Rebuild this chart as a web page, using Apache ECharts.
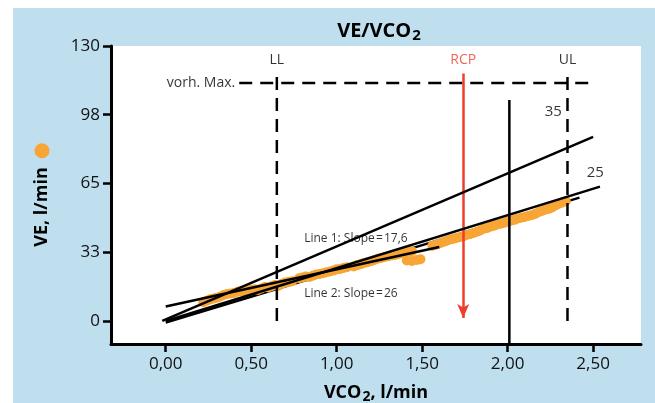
<!DOCTYPE html>
<html><head><meta charset="utf-8">
<script src="https://cdn.jsdelivr.net/npm/echarts@6/dist/echarts.min.js"></script>
<style>
html,body{margin:0;padding:0;background:#fff;}
#bg{position:absolute;left:13px;top:8px;width:642px;height:395px;background:#bfdfee;}
#main{position:absolute;left:0;top:0;width:655px;height:403px;}
</style></head><body>
<div id="bg"></div><div id="main"></div>
<script>
// ---- data ----
const xTicks = [0, 0.5, 1, 1.5, 2, 2.5];
const yTicks = [0, 32.5, 65, 97.5, 130];
const gasPoints = [
 [0.22,8.8],[0.24,9.6],[0.26,10.2],[0.28,10.6],[0.30,11.0],[0.32,11.6],[0.34,12.3],[0.36,12.8],[0.38,13.0],[0.40,13.2],
 [0.42,13.8],[0.44,14.0],[0.46,13.6],[0.48,14.2],[0.50,14.8],[0.52,15.0],[0.54,14.6],[0.56,15.4],[0.58,16.0],[0.60,15.8],
 [0.62,16.4],[0.64,17.0],[0.66,16.6],[0.68,17.6],[0.70,18.2],[0.72,18.4],[0.74,18.8],
 [0.78,20.2],[0.80,20.6],[0.82,21.0],[0.84,20.8],[0.86,21.4],[0.88,22.0],[0.90,22.2],[0.92,22.6],[0.94,23.0],
 [0.96,23.4],[0.98,23.8],[1.00,24.4],[1.02,24.6],[1.04,25.0],[1.06,25.4],
 [1.10,25.8],[1.12,26.4],[1.14,26.8],[1.16,27.4],[1.18,27.8],[1.20,28.2],[1.22,28.8],[1.24,29.4],[1.26,29.8],
 [1.28,30.2],[1.30,30.6],[1.32,31.0],[1.34,31.2],[1.36,31.6],[1.38,32.0],[1.40,32.4],[1.42,32.8],[1.44,33.0],
 [1.41,28.6],[1.44,28.4],[1.47,28.8],[1.49,29.2],
 [1.56,35.6],[1.58,36.0],[1.60,36.6],[1.62,37.2],[1.64,37.8],[1.66,38.4],[1.68,38.8],[1.70,39.2],[1.72,39.6],
 [1.74,40.0],[1.76,40.6],[1.78,41.0],[1.80,41.6],[1.82,42.2],[1.84,42.8],[1.86,43.6],[1.88,44.0],[1.90,44.6],
 [1.92,45.0],[1.94,45.6],[1.96,46.0],[1.98,46.4],[2.00,47.0],[2.02,47.4],[2.04,47.8],[2.06,48.4],[2.08,48.8],
 [2.10,49.2],[2.12,49.6],[2.14,50.0],[2.16,50.6],[2.18,51.4],[2.20,52.0],[2.22,52.6],[2.24,53.0],[2.26,53.6],
 [2.28,54.6],[2.30,55.4],[2.32,56.0],[2.34,56.6]
];
const iso35 = [[-0.02, 0], [2.5, 87]];
const iso25 = [[0, 0], [2.54, 63.5]];
const line1 = [[0, 6.8], [1.6, 35]];
const line2 = [[0, -0.8], [2.42, 58.3]];
const maxLine = [[0.43, 112.5], [2.5, 112.5]];
const llLine = [[0.65, 0], [0.65, 116]];
const ulLine = [[2.35, 0], [2.35, 116]];
const solidLine = [[2.01, -11], [2.01, 104.5]];
const rcpLine = [[1.74, 117], [1.74, 1.4]];
const markerNames = ['LL', 'RCP', 'UL'];
const markerX = [0.65, 1.74, 2.35];
const markerY = 123.4;
const textLabels = [
  {name: '35', value: [2.267, 98.8], align: 'center', size: 15},
  {name: '25', value: [2.513, 70], align: 'center', size: 15},
  {name: 'Line 1: Slope\u200a=\u200a17,6', value: [0.81, 38.8], align: 'left', size: 12},
  {name: 'Line 2: Slope\u200a=\u200a26', value: [0.81, 12.8], align: 'left', size: 12}
];
const maxLabel = 'vorh. Max.';

const FONT = 'Open Sans';
const ORANGE = '#f7a535';
const RED = '#ee3d2c';
const LW = 2.5;
const chart = echarts.init(document.getElementById('main'), null, {renderer: 'canvas'});

function lineSeries(data, dashed, z) {
  return {type: 'line', data: data, symbol: 'none', silent: true, z: z || 5,
    lineStyle: {color: '#000', width: LW, type: dashed ? [13, 8] : 'solid'}, animation: false};
}
function textSeries(items) {
  return {type: 'scatter', z: 8, silent: true, symbolSize: 2,
    itemStyle: {color: 'rgba(0,0,0,0)'}, data: items,
    label: {show: true, position: 'inside', formatter: p => p.name, fontFamily: FONT, color: '#000'}};
}

const option = {
  animation: false,
  backgroundColor: 'transparent',
  textStyle: {fontFamily: FONT},
  title: {
    text: '{a|VE/VCO}{s|2}', left: 374, top: 16, textAlign: 'center',
    textStyle: {rich: {
      a: {fontFamily: FONT, fontSize: 20, fontWeight: 'bold', color: '#000', lineHeight: 22, verticalAlign: 'top'},
      s: {fontFamily: FONT, fontSize: 15, fontWeight: 'bold', color: '#000', lineHeight: 15, padding: [13, 0, 0, 1], verticalAlign: 'bottom'}
    }}
  },
  grid: {left: 111, top: 46, right: 14, bottom: 59, show: true, backgroundColor: '#fff', borderWidth: 0,
    containLabel: false, outerBoundsMode: 'none'},
  xAxis: {
    type: 'value', min: -0.32, max: 2.78,
    axisLine: {show: true, onZero: false, lineStyle: {color: '#000', width: 3}},
    axisTick: {show: true, customValues: xTicks, length: 8, lineStyle: {color: '#000', width: 2.5}},
    axisLabel: {customValues: xTicks, margin: 12, fontFamily: FONT, fontSize: 17, color: '#111',
      formatter: v => v.toFixed(2).replace('.', ',')},
    splitLine: {show: false},
    name: '{a|VCO}{s|2}{a|, l/min}', nameLocation: 'middle', nameGap: 33,
    nameTextStyle: {rich: {
      a: {fontFamily: FONT, fontSize: 18, fontWeight: 'bold', color: '#000', lineHeight: 20, verticalAlign: 'top'},
      s: {fontFamily: FONT, fontSize: 14, fontWeight: 'bold', color: '#000', lineHeight: 14, padding: [12, 0, 0, 1], verticalAlign: 'bottom'}
    }}
  },
  yAxis: {
    type: 'value', min: -10.9, max: 130,
    axisLine: {show: true, onZero: false, lineStyle: {color: '#000', width: 3}},
    axisTick: {show: true, customValues: yTicks, length: 8, lineStyle: {color: '#000', width: 2.5}},
    axisLabel: {customValues: yTicks, margin: 11, fontFamily: FONT, fontSize: 17, color: '#111',
      formatter: v => String(Math.round(v))},
    splitLine: {show: false},
    name: '{t|VE, l/min}{g|}{d|}', nameLocation: 'middle', nameGap: 60, nameRotate: 90,
    nameTextStyle: {rich: {
      t: {fontFamily: FONT, fontSize: 18, fontWeight: 'bold', color: '#000'},
      g: {width: 9},
      d: {width: 15, height: 15, backgroundColor: ORANGE, borderRadius: 7.5}
    }}
  },
  series: [
    lineSeries(line2, false, 2),
    {type: 'scatter', data: gasPoints, symbol: 'circle', symbolSize: 10, z: 3, silent: true,
      itemStyle: {color: ORANGE, opacity: 1}},
    lineSeries(iso35, false),
    lineSeries(iso25, false),
    lineSeries(line1, false),
    lineSeries(maxLine, true),
    lineSeries(llLine, true),
    lineSeries(ulLine, true),
    lineSeries(solidLine, false),
    {type: 'line', data: [], z: 6, silent: true,
      markLine: {silent: true, symbol: ['none', 'arrow'], symbolSize: [9, 14], animation: false,
        lineStyle: {color: RED, width: 2.5, type: 'solid'}, label: {show: false},
        data: [[{coord: rcpLine[0]}, {coord: rcpLine[1]}]]}},
    textSeries(markerNames.map((n, i) => ({name: n, value: [markerX[i], markerY],
      label: {fontSize: 14, color: n === 'RCP' ? RED : '#000'}}))),
    textSeries(textLabels.map(t => ({name: t.name, value: t.value,
      label: {align: t.align, fontSize: t.size}}))),
    textSeries([{name: maxLabel, value: maxLine[0],
      label: {position: 'left', distance: 3, fontSize: 14}}])
  ]
};
chart.setOption(option);
</script></body></html>
